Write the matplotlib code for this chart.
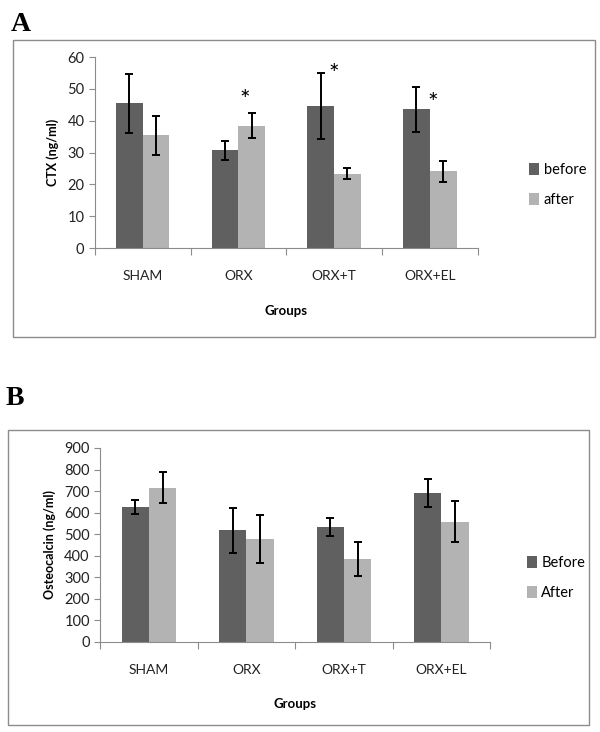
import matplotlib.pyplot as plt
import numpy as np
from matplotlib.patches import Rectangle

groups = ["SHAM", "ORX", "ORX+T", "ORX+EL"]

# panel A: CTX
ctx_before = [45.5, 30.8, 44.6, 43.6]
ctx_before_err = [9.3, 3.0, 10.4, 7.1]
ctx_after = [35.4, 38.5, 23.4, 24.1]
ctx_after_err = [6.0, 4.0, 1.8, 3.3]
ctx_star_x = [1.57, 2.50, 3.53]
ctx_star_y = [46.5, 54.5, 45.5]

# panel B: osteocalcin
oc_before = [627, 518, 535, 690]
oc_before_err = [32, 104, 42, 66]
oc_after = [716, 478, 385, 558]
oc_after_err = [72, 111, 78, 95]

DARK = "#606060"
LIGHT = "#b3b3b3"
FONT = "Lato"

fig = plt.figure(figsize=(6, 7.32), dpi=100)


def frame(x0, y0, x1, y1):
    fig.patches.append(Rectangle((x0, y0), x1 - x0, y1 - y0, transform=fig.transFigure,
                                 fill=False, edgecolor="#8c8c8c", linewidth=1.0))


def panel(rect, before, b_err, after, a_err, ymax, ystep, ylabel, labels, leg_x):
    ax = fig.add_axes(rect)
    x = np.arange(len(groups)) + 0.5
    w = 0.28
    ax.bar(x - w / 2, before, w, color=DARK, label=labels[0], zorder=2)
    ax.bar(x + w / 2, after, w, color=LIGHT, label=labels[1], zorder=2)
    ax.errorbar(x - w / 2, before, yerr=b_err, fmt="none", ecolor="black",
                elinewidth=1.4, capsize=3, capthick=1.4, zorder=3)
    ax.errorbar(x + w / 2, after, yerr=a_err, fmt="none", ecolor="black",
                elinewidth=1.4, capsize=3, capthick=1.4, zorder=3)
    ax.set_xlim(0, 4)
    ax.set_ylim(0, ymax)
    ax.set_yticks(np.arange(0, ymax + 1, ystep))
    ax.set_xticks(np.arange(0, 5))
    ax.set_xticklabels([])
    ax.set_xticks(x, minor=True)
    ax.set_xticklabels(groups, minor=True, fontsize=10, family=FONT, color="#222222")
    ax.tick_params(axis="x", which="minor", length=0, pad=16)
    ax.tick_params(axis="x", which="major", length=5, color="#8c8c8c", direction="out")
    ax.tick_params(axis="y", length=4, color="#8c8c8c", labelsize=10.5, labelcolor="#222222")
    for t in ax.get_yticklabels():
        t.set_family(FONT)
    for s in ["top", "right"]:
        ax.spines[s].set_visible(False)
    for s in ["left", "bottom"]:
        ax.spines[s].set_color("#8c8c8c")
    ax.set_ylabel(ylabel, fontsize=9, fontweight="bold", family=FONT, labelpad=6)
    ax.set_xlabel("Groups", fontsize=9.5, fontweight="bold", family=FONT, labelpad=16)
    ax.legend(loc="center left", bbox_to_anchor=(leg_x, 0.33), frameon=False,
              handlelength=0.7, handleheight=0.9, handletextpad=0.3,
              labelspacing=1.1, prop={"family": FONT, "size": 10.5})
    return ax


frame(0.022, 0.540, 0.992, 0.945)
axA = panel([0.158, 0.661, 0.638, 0.261], ctx_before, ctx_before_err, ctx_after,
            ctx_after_err, 60, 10, "CTX (ng/ml)", ["before", "after"], 1.1)
for sx, sy in zip(ctx_star_x, ctx_star_y):
    axA.text(sx, sy, "*", ha="center", va="center", fontsize=18, family=FONT)

frame(0.013, 0.0096, 0.982, 0.413)
panel([0.167, 0.123, 0.650, 0.265], oc_before, oc_before_err, oc_after,
      oc_after_err, 900, 100, "Osteocalcin (ng/ml)", ["Before", "After"], 1.06)

fig.text(0.018, 0.958, "A", fontsize=20, fontweight="bold", family="Liberation Serif")
fig.text(0.010, 0.447, "B", fontsize=20, fontweight="bold", family="Liberation Serif")

plt.savefig("out.png", dpi=100)
plt.close()
